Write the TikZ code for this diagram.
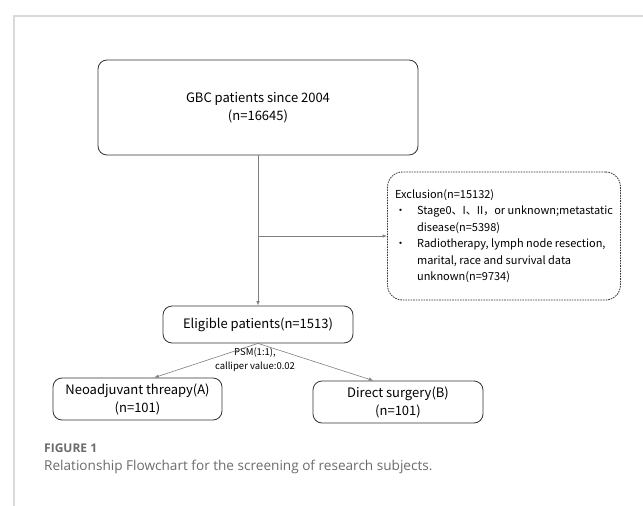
\documentclass[tikz,border=0pt]{standalone}
\usepackage{fontspec}
\setmainfont{Noto Sans CJK SC}
\newfontfamily\capfont{Open Sans}
\usetikzlibrary{shapes,arrows,positioning}
\definecolor{boxline}{HTML}{333333}
\definecolor{conn}{HTML}{7F7F7F}
\definecolor{capgray}{HTML}{6B6B6B}
\tikzstyle{block} = [rectangle, draw=boxline, line width=0.8pt, rounded corners=9pt, align=center, inner sep=0pt, font=\fontsize{13}{18}\selectfont]
\tikzstyle{excl} = [rectangle, draw=boxline, line width=0.8pt, dash pattern=on 1.6pt off 1pt, rounded corners=15pt, inner sep=0pt, font=\fontsize{11}{16.5}\selectfont]
\tikzstyle{conn} = [draw=conn, line width=0.6pt]

\begin{document}
\begin{tikzpicture}[x=1pt, y=-1pt, >=latex]
   \useasboundingbox (0,0) rectangle (643,506);
   % frame
   \draw[black!15, line width=1.5pt] (14,506) -- (14,16) -- (643,16);
   % nodes
   \node[block, minimum width=320, minimum height=95] (gbc) at (258,107.5) {GBC patients since 2004\\(n=16645)};
   \node[excl, minimum width=233, minimum height=128] (ex) at (504,236)
      {\begin{tabular}{@{}l@{\hspace{11pt}}l@{}}
       \multicolumn{2}{@{}l@{}}{Exclusion(n=15132)}\\
       \textbullet & Stage0、I、II，or unknown;metastatic\\
                   & disease(n=5398)\\
       \textbullet & Radiotherapy, lymph node resection,\\
                   & marital, race and survival data\\
                   & unknown(n=9734)
       \end{tabular}};
   \node[block, minimum width=190, minimum height=37] (elig) at (258,324.5) {Eligible patients(n=1513)};
   \node[block, minimum width=169, minimum height=42] (neo) at (137.5,399) {Neoadjuvant threapy(A)\\(n=101)};
   \node[block, minimum width=170, minimum height=42] (dir) at (398,402) {Direct surgery(B)\\(n=101)};
   \node[align=center, inner sep=0pt, font=\fontsize{9.5}{14}\selectfont] (psm) at (255,360) {PSM(1:1),\\calliper value:0.02};
   % edges
   \draw[conn, ->] (gbc.south) -- (elig.north);
   \draw[conn, ->] (gbc.south |- ex.west) -- (ex.west);
   \draw[conn, ->] (elig.south) -- (neo.52);
   \draw[conn, ->] (elig.south) -- (dir.139);
   % caption
   \node[anchor=west, inner sep=0pt, text=capgray, font=\capfont\bfseries\fontsize{12}{14}\selectfont] (fig) at (44,448) {FIGURE 1};
   \node[anchor=west, inner sep=0pt, text=capgray, font=\capfont\fontsize{13.6}{16}\selectfont] (cap) at (44,467) {Relationship Flowchart for the screening of research subjects.};
\end{tikzpicture}
\end{document}
